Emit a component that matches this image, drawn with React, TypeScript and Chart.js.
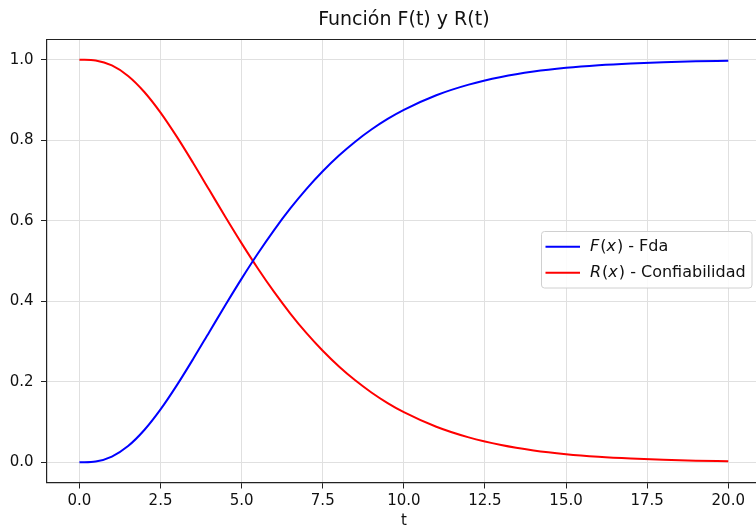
import React, { useEffect, useRef } from 'react';
import { Chart, registerables } from 'chart.js';

Chart.register(...registerables);

// Data
const tValues = [0, 0.5, 1, 1.5, 2, 2.5, 3, 3.5, 4, 4.5, 5, 5.5, 6, 6.5, 7, 7.5, 8, 8.5, 9, 9.5, 10, 11, 12, 13, 14, 15, 16, 17, 18, 19, 20];
const fdaValues = [0, 0.0022, 0.0144, 0.0405, 0.0803, 0.1315, 0.1912, 0.256, 0.3233, 0.3907, 0.4562, 0.5185, 0.5768, 0.6304, 0.6792, 0.7229, 0.7619, 0.7963, 0.8264, 0.8527, 0.8753, 0.9116, 0.938, 0.957, 0.9704, 0.9797, 0.9862, 0.9907, 0.9938, 0.9958, 0.9972];
const confValues = [1, 0.9978, 0.9856, 0.9595, 0.9197, 0.8685, 0.8088, 0.744, 0.6767, 0.6093, 0.5438, 0.4815, 0.4232, 0.3696, 0.3208, 0.2771, 0.2381, 0.2037, 0.1736, 0.1473, 0.1247, 0.0884, 0.062, 0.043, 0.0296, 0.0203, 0.0138, 0.0093, 0.0062, 0.0042, 0.0028];
const xTicks = [0, 2.5, 5, 7.5, 10, 12.5, 15, 17.5, 20];
const yTicks = [0, 0.2, 0.4, 0.6, 0.8, 1.0];
const titleText = 'Función F(t) y R(t)';
const xLabel = 't';
const legendEntries = [
  { sym: 'F', rest: ' - Fda', color: '#0000ff' },
  { sym: 'R', rest: ' - Confiabilidad', color: '#ff0000' },
];

const FONT = 'DejaVu Sans';
const CANVAS_W = 770;
const CANVAS_H = 529;

const decorPlugin = {
  id: 'decor',
  beforeDatasetsDraw(chart: any) {
    const { ctx, chartArea } = chart;
    ctx.save();
    ctx.strokeStyle = '#222';
    ctx.lineWidth = 1.2;
    ctx.beginPath();
    ctx.moveTo(chartArea.left, chartArea.top);
    ctx.lineTo(chartArea.right, chartArea.top);
    ctx.moveTo(chartArea.right, chartArea.top);
    ctx.lineTo(chartArea.right, chartArea.bottom);
    ctx.stroke();
    ctx.restore();
  },
  afterDraw(chart: any) {
    const { ctx, chartArea } = chart;
    const cx = (chartArea.left + chartArea.right) / 2;
    ctx.save();
    ctx.fillStyle = '#111';
    ctx.textAlign = 'center';
    ctx.textBaseline = 'middle';
    ctx.font = `19px "${FONT}"`;
    ctx.fillText(titleText, cx, 20);
    ctx.font = `15px "${FONT}"`;
    ctx.fillText(xLabel, cx, 521);

    // legend
    const bx = 541.5, by = 231.5, bw = 210.5, bh = 56.5, r = 3;
    ctx.beginPath();
    ctx.moveTo(bx + r, by);
    ctx.lineTo(bx + bw - r, by);
    ctx.quadraticCurveTo(bx + bw, by, bx + bw, by + r);
    ctx.lineTo(bx + bw, by + bh - r);
    ctx.quadraticCurveTo(bx + bw, by + bh, bx + bw - r, by + bh);
    ctx.lineTo(bx + r, by + bh);
    ctx.quadraticCurveTo(bx, by + bh, bx, by + bh - r);
    ctx.lineTo(bx, by + r);
    ctx.quadraticCurveTo(bx, by, bx + r, by);
    ctx.closePath();
    ctx.fillStyle = 'rgba(255,255,255,0.85)';
    ctx.fill();
    ctx.strokeStyle = '#d0d0d0';
    ctx.lineWidth = 1;
    ctx.stroke();

    const rows = [246.7, 272.7];
    legendEntries.forEach((e, i) => {
      const y = rows[i];
      ctx.strokeStyle = e.color;
      ctx.lineWidth = 2;
      ctx.beginPath();
      ctx.moveTo(545.5, y);
      ctx.lineTo(580, y);
      ctx.stroke();
      ctx.fillStyle = '#111';
      ctx.textAlign = 'left';
      ctx.textBaseline = 'middle';
      let x = 590;
      const parts: [string, boolean][] = [[e.sym, true], ['(', false], ['x', true], [')', false], [e.rest, false]];
      parts.forEach(([s, it]) => {
        ctx.font = `${it ? 'italic ' : ''}16px "${FONT}"`;
        ctx.fillText(s, x, y);
        x += ctx.measureText(s).width + (it ? 1 : 0);
      });
    });
    ctx.restore();
  },
};

export default function App() {
  const ref = useRef<HTMLCanvasElement | null>(null);
  useEffect(() => {
    if (!ref.current) return;
    const chart = new Chart(ref.current, {
      type: 'line',
      data: {
        datasets: [
          {
            label: 'F(x) - Fda',
            data: tValues.map((t, i) => ({ x: t, y: fdaValues[i] })),
            borderColor: '#0000ff',
            borderWidth: 2,
            pointRadius: 0,
            fill: false,
            cubicInterpolationMode: 'monotone',
          },
          {
            label: 'R(x) - Confiabilidad',
            data: tValues.map((t, i) => ({ x: t, y: confValues[i] })),
            borderColor: '#ff0000',
            borderWidth: 2,
            pointRadius: 0,
            fill: false,
            cubicInterpolationMode: 'monotone',
          },
        ],
      },
      options: {
        animation: false,
        responsive: false,
        devicePixelRatio: 1,
        layout: { padding: { left: 0, right: CANVAS_W - 760.7, top: 39.5, bottom: 0 } },
        plugins: { legend: { display: false }, title: { display: false }, tooltip: { enabled: false } },
        scales: {
          x: {
            type: 'linear',
            min: -1,
            max: 21,
            afterBuildTicks: (s: any) => { s.ticks = xTicks.map((v) => ({ value: v })); },
            afterFit: (s: any) => { s.height = CANVAS_H - 482.5; },
            grid: { color: '#e0e0e0', lineWidth: 1, tickColor: '#222', tickLength: 6 },
            border: { display: true, color: '#222', width: 1.2 },
            ticks: {
              padding: 3.5,
              color: '#111',
              font: { family: FONT, size: 15 },
              maxRotation: 0,
              autoSkip: false,
              callback: (v: any) => Number(v).toFixed(1),
            },
          },
          y: {
            type: 'linear',
            min: -0.05,
            max: 1.05,
            afterBuildTicks: (s: any) => { s.ticks = yTicks.map((v) => ({ value: v })); },
            afterFit: (s: any) => { s.width = 47; },
            grid: { color: '#e0e0e0', lineWidth: 1, tickColor: '#222', tickLength: 6 },
            border: { display: true, color: '#222', width: 1.2 },
            ticks: {
              padding: 7.5,
              color: '#111',
              font: { family: FONT, size: 15 },
              autoSkip: false,
              callback: (v: any) => Number(v).toFixed(1),
            },
          },
        },
      },
      plugins: [decorPlugin],
    });
    return () => chart.destroy();
  }, []);
  return (
    <div style={{ position: 'absolute', left: 0, top: 0, width: 756, height: 529, overflow: 'hidden', background: '#fff' }}>
      <canvas ref={ref} width={CANVAS_W} height={CANVAS_H} style={{ width: CANVAS_W, height: CANVAS_H, display: 'block' }} />
    </div>
  );
}
